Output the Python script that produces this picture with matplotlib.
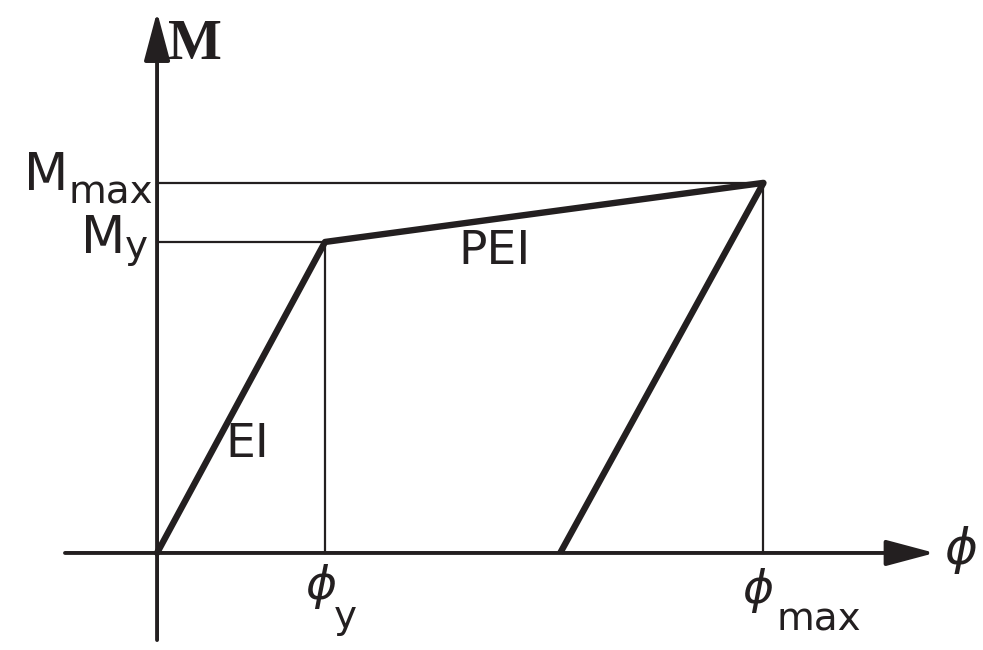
import matplotlib
matplotlib.use("Agg")
import matplotlib.pyplot as plt

# bilinear moment-curvature diagram (normalised units)
phi_y = 1.0
phi_max = 3.61
phi_res = 2.40
M_y = 1.0
M_max = 1.19

# loading branch and unloading branch
load_phi = [0.0, phi_y, phi_max]
load_M = [0.0, M_y, M_max]
unload_phi = [phi_res, phi_max]
unload_M = [0.0, M_max]

ink = "#231f20"

fig = plt.figure(figsize=(9.83, 6.5), dpi=100)
ax = fig.add_axes([0, 0, 1, 1])
ax.set_xlim(-0.935, 4.917)
ax.set_ylim(-0.312, 1.778)
ax.axis("off")

# axes with arrows
arrow = dict(arrowstyle="-|>,head_length=1.5,head_width=0.4", color=ink,
             lw=2.8, shrinkA=0, shrinkB=0, mutation_scale=20)
ax.annotate("", xy=(4.63, 0), xytext=(-0.548, 0), arrowprops=arrow)
ax.annotate("", xy=(0, 1.74), xytext=(0, -0.28), arrowprops=arrow)

# guide lines
ax.plot([0, phi_y, phi_y], [M_y, M_y, 0], color=ink, lw=1.6)
ax.plot([0, phi_max, phi_max], [M_max, M_max, 0], color=ink, lw=1.6)

# curves
ax.plot(load_phi, load_M, color=ink, lw=4.6, solid_capstyle="round",
        solid_joinstyle="round")
ax.plot(unload_phi, unload_M, color=ink, lw=4.6, solid_capstyle="butt")

sans = "DejaVu Sans"
phi_font = dict(family="DejaVu Sans", style="oblique", color=ink,
                ha="center", va="center")

# axis titles
ax.text(0.226, 1.633, "M", fontsize=41, fontweight="bold",
        family="Liberation Serif", color=ink, ha="center", va="center")
ax.text(4.786, 0.01, "ϕ", fontsize=36, **phi_font)

# moment labels
ax.text(-0.53, 1.167, "M", fontsize=37, family=sans, color=ink,
        ha="right", va="baseline")
ax.text(-0.53, 1.125, "max", fontsize=28, family=sans, color=ink,
        ha="left", va="baseline")
ax.text(-0.19, 0.965, "M", fontsize=37, family=sans, color=ink,
        ha="right", va="baseline")
ax.text(-0.19, 0.95, "y", fontsize=28, family=sans, color=ink,
        ha="left", va="baseline")

# curvature labels
ax.text(phi_y - 0.024, -0.109, "ϕ", fontsize=34, **phi_font)
ax.text(phi_y + 0.119, -0.206, "y", fontsize=28, family=sans, color=ink,
        ha="center", va="center")
ax.text(phi_max - 0.033, -0.122, "ϕ", fontsize=34, **phi_font)
ax.text(phi_max + 0.08, -0.248, "max", fontsize=28, family=sans, color=ink,
        ha="left", va="baseline")

# stiffness labels
ax.text(0.536, 0.35, "EI", fontsize=34, family=sans, color=ink,
        ha="center", va="center")
ax.text(2.01, 0.968, "PEI", fontsize=34, family=sans, color=ink,
        ha="center", va="center")

fig.savefig("out.png", dpi=100, facecolor="white")
